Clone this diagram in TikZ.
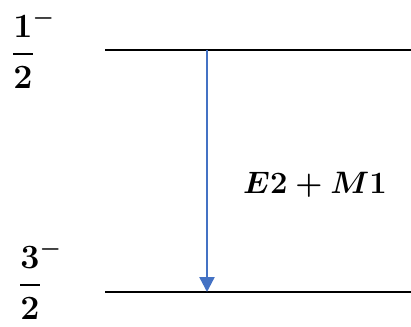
\RequirePackage{fix-cm}
\documentclass[tikz,border=0pt]{standalone}
\usepackage{amsmath,amssymb}
\usepackage{xcolor}
\usetikzlibrary{arrows.meta}
\definecolor{trblue}{RGB}{68,114,196}
\DeclareMathSizes{34}{34}{24}{17}
\DeclareMathSizes{31}{31}{22}{15}
\tikzset{
  level/.style={line width=1.6pt, black},
  spin/.style={font=\fontsize{34}{40}\selectfont\boldmath, inner sep=0pt},
  trans/.style={-{Triangle[length=15pt,width=15pt]}, line width=2.4pt, trblue},
  lbl/.style={font=\fontsize{31}{36}\selectfont\boldmath, inner sep=0pt}}

\begin{document}
\begin{tikzpicture}[x=1pt,y=1pt]
  \useasboundingbox (0,0) rectangle (411,326);
  % levels
  \coordinate (top-l) at (105,276); \coordinate (top-r) at (411,276);
  \coordinate (bot-l) at (105,34);  \coordinate (bot-r) at (411,34);
  \draw[level] (top-l) -- (top-r);
  \draw[level] (bot-l) -- (bot-r);
  % spins
  \node[spin] (jtop) at (23,277) {$\displaystyle\frac{1\rlap{$^{-}$}}{2}$};
  \node[spin] (jbot) at (30,46) {$\displaystyle\frac{3\rlap{$^{-}$}}{2}$};
  % transition
  \coordinate (tr-a) at (207,276); \coordinate (tr-b) at (207,34);
  \draw[trans] (tr-a) -- (tr-b);
  \node[lbl] (mult) at (315,141) {$E2+M1$};
\end{tikzpicture}
\end{document}
